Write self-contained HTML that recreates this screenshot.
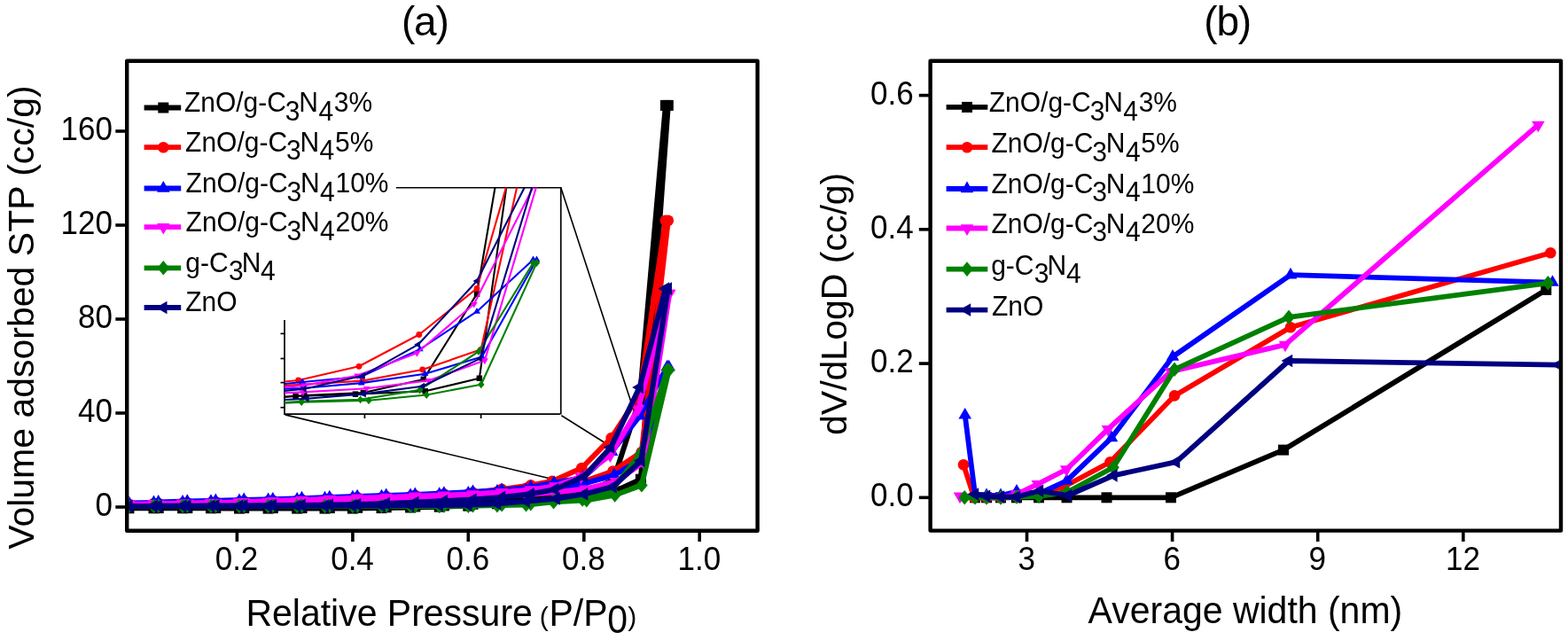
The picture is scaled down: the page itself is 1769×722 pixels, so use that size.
<!DOCTYPE html><html><head><meta charset="utf-8"><style>html,body{margin:0;padding:0;background:#fff;overflow:hidden}</style></head><body><svg width="1769" height="722" viewBox="0 0 1769 722" style="display:block">
<rect width="1769" height="722" fill="#fff"/>
<defs><clipPath id="ca"><rect x="145.4" y="70.9" width="707" height="525.6"/></clipPath><clipPath id="cb"><rect x="1051.8" y="71" width="707" height="525.4"/></clipPath><clipPath id="ci"><rect x="321" y="211.6" width="311.2" height="255.2"/></clipPath></defs>
<text x="453" y="40.3" font-family="Liberation Sans, Arial, sans-serif" font-size="46" letter-spacing="-1.2">(a)</text>
<text x="1358.3" y="40.3" font-family="Liberation Sans, Arial, sans-serif" font-size="46" letter-spacing="-1.2">(b)</text>
<g font-family="Liberation Sans, Arial, sans-serif" font-size="35" fill="#000">
<line x1="130.3" y1="572.0" x2="143" y2="572.0" stroke="#000" stroke-width="3.6"/>
<text transform="translate(127,582.3) scale(1,1.05)" text-anchor="end">0</text>
<line x1="130.3" y1="466.0" x2="143" y2="466.0" stroke="#000" stroke-width="3.6"/>
<text transform="translate(127,476.3) scale(1,1.05)" text-anchor="end">40</text>
<line x1="130.3" y1="360.0" x2="143" y2="360.0" stroke="#000" stroke-width="3.6"/>
<text transform="translate(127,370.3) scale(1,1.05)" text-anchor="end">80</text>
<line x1="130.3" y1="254.0" x2="143" y2="254.0" stroke="#000" stroke-width="3.6"/>
<text transform="translate(127,264.3) scale(1,1.05)" text-anchor="end">120</text>
<line x1="130.3" y1="148.0" x2="143" y2="148.0" stroke="#000" stroke-width="3.6"/>
<text transform="translate(127,158.3) scale(1,1.05)" text-anchor="end">160</text>
<line x1="267.4" y1="598" x2="267.4" y2="611" stroke="#000" stroke-width="3.6"/>
<text transform="translate(267.0,643.3) scale(1,1.05)" text-anchor="middle">0.2</text>
<line x1="397.9" y1="598" x2="397.9" y2="611" stroke="#000" stroke-width="3.6"/>
<text transform="translate(397.5,643.3) scale(1,1.05)" text-anchor="middle">0.4</text>
<line x1="528.3" y1="598" x2="528.3" y2="611" stroke="#000" stroke-width="3.6"/>
<text transform="translate(527.9,643.3) scale(1,1.05)" text-anchor="middle">0.6</text>
<line x1="658.8" y1="598" x2="658.8" y2="611" stroke="#000" stroke-width="3.6"/>
<text transform="translate(658.4,643.3) scale(1,1.05)" text-anchor="middle">0.8</text>
<line x1="789.2" y1="598" x2="789.2" y2="611" stroke="#000" stroke-width="3.6"/>
<text transform="translate(788.8,643.3) scale(1,1.05)" text-anchor="middle">1.0</text>
</g>
<g font-family="Liberation Sans, Arial, sans-serif" font-size="35" fill="#000">
<line x1="1036.8" y1="561.3" x2="1049" y2="561.3" stroke="#000" stroke-width="3.6"/>
<text transform="translate(1030.6,571.3) scale(1,1.05)" text-anchor="end">0.0</text>
<line x1="1036.8" y1="410.1" x2="1049" y2="410.1" stroke="#000" stroke-width="3.6"/>
<text transform="translate(1030.6,420.1) scale(1,1.05)" text-anchor="end">0.2</text>
<line x1="1036.8" y1="258.8" x2="1049" y2="258.8" stroke="#000" stroke-width="3.6"/>
<text transform="translate(1030.6,268.8) scale(1,1.05)" text-anchor="end">0.4</text>
<line x1="1036.8" y1="107.6" x2="1049" y2="107.6" stroke="#000" stroke-width="3.6"/>
<text transform="translate(1030.6,117.6) scale(1,1.05)" text-anchor="end">0.6</text>
<line x1="1158.5" y1="598" x2="1158.5" y2="611" stroke="#000" stroke-width="3.6"/>
<text transform="translate(1158.1,643) scale(1,1.05)" text-anchor="middle">3</text>
<line x1="1322.6" y1="598" x2="1322.6" y2="611" stroke="#000" stroke-width="3.6"/>
<text transform="translate(1322.2,643) scale(1,1.05)" text-anchor="middle">6</text>
<line x1="1486.7" y1="598" x2="1486.7" y2="611" stroke="#000" stroke-width="3.6"/>
<text transform="translate(1486.3,643) scale(1,1.05)" text-anchor="middle">9</text>
<line x1="1650.8" y1="598" x2="1650.8" y2="611" stroke="#000" stroke-width="3.6"/>
<text transform="translate(1650.4,643) scale(1,1.05)" text-anchor="middle">12</text>
</g>
<text transform="translate(38.0,619.7) rotate(-90)" font-family="Liberation Sans, Arial, sans-serif" font-size="41">Volume adsorbed STP (cc/g)</text>
<text transform="translate(954.9,491) rotate(-90)" font-family="Liberation Sans, Arial, sans-serif" font-size="41">dV/dLogD (cc/g)</text>
<text transform="translate(1227.6,702.7) scale(1,1.055)" font-family="Liberation Sans, Arial, sans-serif" font-size="41">Average width (nm)</text>
<text transform="translate(277.4,705.5) scale(1,1.055)" font-family="Liberation Sans, Arial, sans-serif" font-size="41"><tspan x="0">Relative Pressure</tspan></text>
<text transform="translate(608.7,705.5)" font-family="Liberation Sans, Arial, sans-serif" font-size="30">(</text>
<text transform="translate(619.5,705.5) scale(1,1.055)" font-family="Liberation Sans, Arial, sans-serif" font-size="41">P/P</text>
<text transform="translate(685.2,714.4) scale(1,1.08)" font-family="Liberation Sans, Arial, sans-serif" font-size="41">0</text>
<text transform="translate(708.3,705.5)" font-family="Liberation Sans, Arial, sans-serif" font-size="30">)</text>
<g>
<g stroke="#000" stroke-width="1.6" fill="none">
<polyline points="446.7,211.7 632.8,211.7 632.8,467.5"/>
<line x1="632.8" y1="211.7" x2="714.8" y2="462.3"/>
<line x1="633.4" y1="468.7" x2="684" y2="500.5"/>
<line x1="321.6" y1="467.9" x2="625.3" y2="541"/>
</g>
<g stroke="#000" stroke-width="1.7">
<line x1="321" y1="361" x2="321" y2="467.2"/><line x1="320.2" y1="467.2" x2="632" y2="467.2"/>
<line x1="316.5" y1="376.4" x2="321" y2="376.4"/>
<line x1="316.5" y1="404.5" x2="321" y2="404.5"/>
<line x1="316.5" y1="431.6" x2="321" y2="431.6"/>
<line x1="316.5" y1="459.7" x2="321" y2="459.7"/>
<line x1="411.4" y1="467.2" x2="411.4" y2="472"/>
<line x1="542.6" y1="467.2" x2="542.6" y2="472"/>
</g>
<g clip-path="url(#ci)">
<polyline points="-637.2,461.2 -580.0,461.2 -513.5,461.2 -448.3,461.2 -383.1,461.5 -316.6,461.5 -250.0,461.5 -186.2,461.5 -122.3,461.5 -55.8,460.9 10.7,460.4 77.3,459.5 143.8,458.4 210.3,455.9 276.8,452.0 333.5,446.9 401.0,444.7 479.8,441.3 540.8,426.8 603.8,-19.0 597.9,-19.0 538.0,331.6 477.8,427.9 409.9,443.0 343.4,446.1 287.5,449.7 221.0,453.6 154.4,456.4 87.9,458.1 21.4,459.2 -45.1,460.1 -111.7,460.6 -175.5,460.9 -239.4,460.9 -305.9,460.9 -372.4,460.9 -437.6,460.9 -502.8,460.9 -569.3,460.9" fill="none" stroke="#000000" stroke-width="2.1" stroke-linejoin="round" stroke-linecap="round" />
<rect x="330.3" y="443.7" width="6.5" height="6.5" fill="#000000"/>
<rect x="397.7" y="441.4" width="6.5" height="6.5" fill="#000000"/>
<rect x="476.5" y="438.1" width="6.5" height="6.5" fill="#000000"/>
<rect x="537.6" y="423.5" width="6.5" height="6.5" fill="#000000"/>
<rect x="600.5" y="-22.2" width="6.5" height="6.5" fill="#000000"/>
<rect x="594.6" y="-22.2" width="6.5" height="6.5" fill="#000000"/>
<rect x="534.8" y="328.3" width="6.5" height="6.5" fill="#000000"/>
<rect x="474.5" y="424.6" width="6.5" height="6.5" fill="#000000"/>
<rect x="406.6" y="439.8" width="6.5" height="6.5" fill="#000000"/>
<rect x="340.1" y="442.8" width="6.5" height="6.5" fill="#000000"/>
<polyline points="-637.2,456.2 -580.0,455.6 -513.5,455.0 -448.3,454.5 -383.1,453.6 -316.6,452.8 -250.0,452.0 -186.2,450.8 -122.3,449.7 -55.8,448.6 10.7,447.2 77.3,445.8 143.8,444.4 210.3,441.6 276.8,437.4 340.7,433.8 408.8,429.6 476.7,417.0 542.6,394.3 603.8,118.2 597.9,118.2 538.0,325.4 472.8,377.5 405.0,413.3 336.7,429.0 287.5,433.8 221.0,438.5 154.4,442.4 87.9,444.1 21.4,445.8 -45.1,447.2 -111.7,448.3 -175.5,449.7 -239.4,450.8 -305.9,452.0 -372.4,452.8 -437.6,453.6 -502.8,454.5 -569.3,455.3" fill="none" stroke="#ff0000" stroke-width="2.1" stroke-linejoin="round" stroke-linecap="round" />
<circle cx="340.7" cy="433.8" r="3.4" fill="#ff0000"/>
<circle cx="408.8" cy="429.6" r="3.4" fill="#ff0000"/>
<circle cx="476.7" cy="417.0" r="3.4" fill="#ff0000"/>
<circle cx="542.6" cy="394.3" r="3.4" fill="#ff0000"/>
<circle cx="603.8" cy="118.2" r="3.4" fill="#ff0000"/>
<circle cx="597.9" cy="118.2" r="3.4" fill="#ff0000"/>
<circle cx="538.0" cy="325.4" r="3.4" fill="#ff0000"/>
<circle cx="472.8" cy="377.5" r="3.4" fill="#ff0000"/>
<circle cx="405.0" cy="413.3" r="3.4" fill="#ff0000"/>
<circle cx="336.7" cy="429.0" r="3.4" fill="#ff0000"/>
<polyline points="-637.2,455.0 -580.0,454.5 -513.5,453.9 -448.3,453.1 -383.1,452.2 -316.6,451.4 -250.0,450.6 -186.2,449.4 -122.3,448.3 -55.8,447.2 10.7,445.8 77.3,444.7 143.8,443.3 210.3,441.3 276.8,439.6 341.2,438.0 407.8,432.1 479.5,421.7 543.7,402.4 605.5,292.9 601.5,292.9 538.0,351.4 473.8,394.0 407.8,424.8 341.2,431.0 287.5,436.3 221.0,439.6 154.4,441.9 87.9,443.6 21.4,445.0 -45.1,446.1 -111.7,447.2 -175.5,448.3 -239.4,449.4 -305.9,450.6 -372.4,451.4 -437.6,452.2 -502.8,453.1 -569.3,453.9" fill="none" stroke="#0000ff" stroke-width="2.1" stroke-linejoin="round" stroke-linecap="round" />
<polygon points="341.2,433.4 345.2,440.2 337.3,440.2" fill="#0000ff"/>
<polygon points="407.8,427.5 411.7,434.4 403.8,434.4" fill="#0000ff"/>
<polygon points="479.5,417.2 483.4,424.0 475.5,424.0" fill="#0000ff"/>
<polygon points="543.7,397.9 547.7,404.7 539.8,404.7" fill="#0000ff"/>
<polygon points="605.5,288.4 609.4,295.2 601.5,295.2" fill="#0000ff"/>
<polygon points="601.5,288.4 605.5,295.2 597.5,295.2" fill="#0000ff"/>
<polygon points="538.0,346.9 542.0,353.7 534.1,353.7" fill="#0000ff"/>
<polygon points="473.8,389.4 477.7,396.3 469.8,396.3" fill="#0000ff"/>
<polygon points="407.8,420.2 411.7,427.1 403.8,427.1" fill="#0000ff"/>
<polygon points="341.2,426.4 345.2,433.2 337.3,433.2" fill="#0000ff"/>
<polyline points="-637.2,456.4 -580.0,455.9 -513.5,455.3 -448.3,454.5 -383.1,453.9 -316.6,453.4 -250.0,452.5 -186.2,451.7 -122.3,450.8 -55.8,450.3 10.7,449.4 77.3,448.6 143.8,448.0 210.3,446.6 276.8,445.0 341.8,442.4 413.8,438.2 483.6,429.3 546.9,406.6 606.8,205.0 604.6,205.0 534.8,343.0 470.4,398.2 403.2,423.7 343.4,434.9 287.5,439.1 221.0,442.2 154.4,444.4 87.9,445.8 21.4,446.9 -45.1,448.0 -111.7,448.9 -175.5,450.3 -239.4,451.4 -305.9,452.5 -372.4,453.6 -437.6,454.8 -502.8,455.6 -569.3,456.4" fill="none" stroke="#ff00ff" stroke-width="2.1" stroke-linejoin="round" stroke-linecap="round" />
<polygon points="341.8,447.0 345.7,440.2 337.8,440.2" fill="#ff00ff"/>
<polygon points="413.8,442.8 417.7,436.0 409.8,436.0" fill="#ff00ff"/>
<polygon points="483.6,433.8 487.6,427.0 479.7,427.0" fill="#ff00ff"/>
<polygon points="546.9,411.2 550.9,404.3 543.0,404.3" fill="#ff00ff"/>
<polygon points="606.8,209.6 610.8,202.7 602.9,202.7" fill="#ff00ff"/>
<polygon points="604.6,209.6 608.5,202.7 600.6,202.7" fill="#ff00ff"/>
<polygon points="534.8,347.6 538.8,340.8 530.9,340.8" fill="#ff00ff"/>
<polygon points="470.4,402.8 474.4,395.9 466.5,395.9" fill="#ff00ff"/>
<polygon points="403.2,428.2 407.2,421.4 399.3,421.4" fill="#ff00ff"/>
<polygon points="343.4,439.4 347.3,432.6 339.4,432.6" fill="#ff00ff"/>
<polyline points="-637.2,459.0 -580.0,458.7 -513.5,458.7 -448.3,458.7 -383.1,458.7 -316.6,458.7 -250.0,458.7 -186.2,458.7 -122.3,458.7 -55.8,458.7 10.7,458.7 77.3,458.7 143.8,458.4 210.3,457.8 276.8,457.0 340.2,453.6 416.0,451.7 481.2,445.5 542.8,433.8 605.5,296.6 601.5,296.6 540.0,396.5 473.6,439.9 406.6,450.8 340.2,452.8 287.5,455.9 221.0,457.0 154.4,457.8 87.9,458.1 21.4,458.4 -45.1,458.4 -111.7,458.4 -175.5,458.4 -239.4,458.4 -305.9,458.4 -372.4,458.4 -437.6,458.4 -502.8,458.4 -569.3,458.4" fill="none" stroke="#008000" stroke-width="2.1" stroke-linejoin="round" stroke-linecap="round" />
<polygon points="340.2,449.2 343.9,453.6 340.2,458.1 336.5,453.6" fill="#008000"/>
<polygon points="416.0,447.2 419.7,451.7 416.0,456.2 412.3,451.7" fill="#008000"/>
<polygon points="481.2,441.0 484.9,445.5 481.2,450.0 477.5,445.5" fill="#008000"/>
<polygon points="542.8,429.3 546.5,433.8 542.8,438.2 539.1,433.8" fill="#008000"/>
<polygon points="605.5,292.1 609.2,296.6 605.5,301.0 601.8,296.6" fill="#008000"/>
<polygon points="601.5,292.1 605.2,296.6 601.5,301.0 597.8,296.6" fill="#008000"/>
<polygon points="540.0,392.0 543.7,396.5 540.0,401.0 536.3,396.5" fill="#008000"/>
<polygon points="473.6,435.4 477.3,439.9 473.6,444.4 469.9,439.9" fill="#008000"/>
<polygon points="406.6,446.4 410.3,450.8 406.6,455.3 402.9,450.8" fill="#008000"/>
<polygon points="340.2,448.3 343.9,452.8 340.2,457.3 336.5,452.8" fill="#008000"/>
<polyline points="-637.2,458.7 -580.0,458.7 -513.5,458.7 -448.3,458.7 -383.1,458.7 -316.6,458.7 -250.0,458.4 -186.2,458.4 -122.3,458.1 -55.8,458.1 10.7,457.8 77.3,457.6 143.8,457.3 210.3,455.9 276.8,453.1 346.3,449.7 410.6,444.4 476.7,435.7 541.5,404.6 603.8,199.4 597.9,199.4 538.0,317.0 471.8,388.7 409.5,423.7 343.4,438.8 287.5,444.1 221.0,448.0 154.4,450.8 87.9,452.5 21.4,454.2 -45.1,455.6 -111.7,456.7 -175.5,457.3 -239.4,457.6 -305.9,457.8 -372.4,458.1 -437.6,458.1 -502.8,458.4 -569.3,458.4" fill="none" stroke="#000080" stroke-width="2.1" stroke-linejoin="round" stroke-linecap="round" />
<polygon points="341.8,449.7 348.6,445.8 348.6,453.7" fill="#000080"/>
<polygon points="406.0,444.4 412.8,440.4 412.8,448.4" fill="#000080"/>
<polygon points="472.1,435.7 479.0,431.8 479.0,439.7" fill="#000080"/>
<polygon points="536.9,404.6 543.8,400.7 543.8,408.6" fill="#000080"/>
<polygon points="599.2,199.4 606.0,195.4 606.0,203.4" fill="#000080"/>
<polygon points="593.3,199.4 600.2,195.4 600.2,203.4" fill="#000080"/>
<polygon points="533.5,317.0 540.3,313.0 540.3,321.0" fill="#000080"/>
<polygon points="467.2,388.7 474.0,384.7 474.0,392.6" fill="#000080"/>
<polygon points="405.0,423.7 411.8,419.7 411.8,427.6" fill="#000080"/>
<polygon points="338.8,438.8 345.6,434.8 345.6,442.8" fill="#000080"/>
</g>
</g>
<g clip-path="url(#ca)">
<polyline points="145.4,573.3 173.5,573.3 206.1,573.3 238.0,573.3 270.0,573.6 302.6,573.6 335.2,573.6 366.5,573.6 397.9,573.6 430.5,573.1 463.1,572.5 495.7,571.7 528.3,570.7 560.9,568.3 593.5,564.6 621.3,559.8 654.4,557.7 693.0,554.5 722.9,540.7 753.8,118.9 750.9,118.9 721.6,450.6 692.0,541.8 658.8,556.1 626.1,559.0 598.7,562.5 566.1,566.2 533.5,568.8 500.9,570.4 468.3,571.5 435.7,572.3 403.1,572.8 371.8,573.1 340.5,573.1 307.8,573.1 275.2,573.1 243.3,573.1 211.3,573.1 178.7,573.1" fill="none" stroke="#000000" stroke-width="6" stroke-linejoin="round" stroke-linecap="round" />
<rect x="139.4" y="567.3" width="12.0" height="12.0" fill="#000000"/>
<rect x="167.5" y="567.3" width="12.0" height="12.0" fill="#000000"/>
<rect x="200.1" y="567.3" width="12.0" height="12.0" fill="#000000"/>
<rect x="232.0" y="567.3" width="12.0" height="12.0" fill="#000000"/>
<rect x="264.0" y="567.6" width="12.0" height="12.0" fill="#000000"/>
<rect x="296.6" y="567.6" width="12.0" height="12.0" fill="#000000"/>
<rect x="329.2" y="567.6" width="12.0" height="12.0" fill="#000000"/>
<rect x="360.5" y="567.6" width="12.0" height="12.0" fill="#000000"/>
<rect x="391.9" y="567.6" width="12.0" height="12.0" fill="#000000"/>
<rect x="424.5" y="567.1" width="12.0" height="12.0" fill="#000000"/>
<rect x="457.1" y="566.5" width="12.0" height="12.0" fill="#000000"/>
<rect x="489.7" y="565.7" width="12.0" height="12.0" fill="#000000"/>
<rect x="522.3" y="564.7" width="12.0" height="12.0" fill="#000000"/>
<rect x="554.9" y="562.3" width="12.0" height="12.0" fill="#000000"/>
<rect x="587.5" y="558.6" width="12.0" height="12.0" fill="#000000"/>
<rect x="615.3" y="553.8" width="12.0" height="12.0" fill="#000000"/>
<rect x="648.4" y="551.7" width="12.0" height="12.0" fill="#000000"/>
<rect x="687.0" y="548.5" width="12.0" height="12.0" fill="#000000"/>
<rect x="716.9" y="534.7" width="12.0" height="12.0" fill="#000000"/>
<rect x="747.8" y="112.9" width="12.0" height="12.0" fill="#000000"/>
<rect x="744.9" y="112.9" width="12.0" height="12.0" fill="#000000"/>
<rect x="715.6" y="444.6" width="12.0" height="12.0" fill="#000000"/>
<rect x="686.0" y="535.8" width="12.0" height="12.0" fill="#000000"/>
<rect x="652.8" y="550.1" width="12.0" height="12.0" fill="#000000"/>
<rect x="620.1" y="553.0" width="12.0" height="12.0" fill="#000000"/>
<rect x="592.7" y="556.5" width="12.0" height="12.0" fill="#000000"/>
<rect x="560.1" y="560.2" width="12.0" height="12.0" fill="#000000"/>
<rect x="527.5" y="562.8" width="12.0" height="12.0" fill="#000000"/>
<rect x="494.9" y="564.4" width="12.0" height="12.0" fill="#000000"/>
<rect x="462.3" y="565.5" width="12.0" height="12.0" fill="#000000"/>
<rect x="429.7" y="566.3" width="12.0" height="12.0" fill="#000000"/>
<rect x="397.1" y="566.8" width="12.0" height="12.0" fill="#000000"/>
<rect x="365.8" y="567.1" width="12.0" height="12.0" fill="#000000"/>
<rect x="334.5" y="567.1" width="12.0" height="12.0" fill="#000000"/>
<rect x="301.8" y="567.1" width="12.0" height="12.0" fill="#000000"/>
<rect x="269.2" y="567.1" width="12.0" height="12.0" fill="#000000"/>
<rect x="237.3" y="567.1" width="12.0" height="12.0" fill="#000000"/>
<rect x="205.3" y="567.1" width="12.0" height="12.0" fill="#000000"/>
<rect x="172.7" y="567.1" width="12.0" height="12.0" fill="#000000"/>
<polyline points="145.4,568.6 173.5,568.0 206.1,567.5 238.0,567.0 270.0,566.2 302.6,565.4 335.2,564.6 366.5,563.5 397.9,562.5 430.5,561.4 463.1,560.1 495.7,558.8 528.3,557.4 560.9,554.8 593.5,550.8 624.8,547.4 658.2,543.4 691.5,531.5 723.8,510.0 753.8,248.7 750.9,248.7 721.6,444.8 689.6,494.1 656.3,528.0 622.9,542.9 598.7,547.4 566.1,551.9 533.5,555.6 500.9,557.2 468.3,558.8 435.7,560.1 403.1,561.1 371.8,562.5 340.5,563.5 307.8,564.6 275.2,565.4 243.3,566.2 211.3,567.0 178.7,567.8" fill="none" stroke="#ff0000" stroke-width="6" stroke-linejoin="round" stroke-linecap="round" />
<circle cx="145.4" cy="568.6" r="6.3" fill="#ff0000"/>
<circle cx="173.5" cy="568.0" r="6.3" fill="#ff0000"/>
<circle cx="206.1" cy="567.5" r="6.3" fill="#ff0000"/>
<circle cx="238.0" cy="567.0" r="6.3" fill="#ff0000"/>
<circle cx="270.0" cy="566.2" r="6.3" fill="#ff0000"/>
<circle cx="302.6" cy="565.4" r="6.3" fill="#ff0000"/>
<circle cx="335.2" cy="564.6" r="6.3" fill="#ff0000"/>
<circle cx="366.5" cy="563.5" r="6.3" fill="#ff0000"/>
<circle cx="397.9" cy="562.5" r="6.3" fill="#ff0000"/>
<circle cx="430.5" cy="561.4" r="6.3" fill="#ff0000"/>
<circle cx="463.1" cy="560.1" r="6.3" fill="#ff0000"/>
<circle cx="495.7" cy="558.8" r="6.3" fill="#ff0000"/>
<circle cx="528.3" cy="557.4" r="6.3" fill="#ff0000"/>
<circle cx="560.9" cy="554.8" r="6.3" fill="#ff0000"/>
<circle cx="593.5" cy="550.8" r="6.3" fill="#ff0000"/>
<circle cx="624.8" cy="547.4" r="6.3" fill="#ff0000"/>
<circle cx="658.2" cy="543.4" r="6.3" fill="#ff0000"/>
<circle cx="691.5" cy="531.5" r="6.3" fill="#ff0000"/>
<circle cx="723.8" cy="510.0" r="6.3" fill="#ff0000"/>
<circle cx="753.8" cy="248.7" r="6.3" fill="#ff0000"/>
<circle cx="750.9" cy="248.7" r="6.3" fill="#ff0000"/>
<circle cx="721.6" cy="444.8" r="6.3" fill="#ff0000"/>
<circle cx="689.6" cy="494.1" r="6.3" fill="#ff0000"/>
<circle cx="656.3" cy="528.0" r="6.3" fill="#ff0000"/>
<circle cx="622.9" cy="542.9" r="6.3" fill="#ff0000"/>
<circle cx="598.7" cy="547.4" r="6.3" fill="#ff0000"/>
<circle cx="566.1" cy="551.9" r="6.3" fill="#ff0000"/>
<circle cx="533.5" cy="555.6" r="6.3" fill="#ff0000"/>
<circle cx="500.9" cy="557.2" r="6.3" fill="#ff0000"/>
<circle cx="468.3" cy="558.8" r="6.3" fill="#ff0000"/>
<circle cx="435.7" cy="560.1" r="6.3" fill="#ff0000"/>
<circle cx="403.1" cy="561.1" r="6.3" fill="#ff0000"/>
<circle cx="371.8" cy="562.5" r="6.3" fill="#ff0000"/>
<circle cx="340.5" cy="563.5" r="6.3" fill="#ff0000"/>
<circle cx="307.8" cy="564.6" r="6.3" fill="#ff0000"/>
<circle cx="275.2" cy="565.4" r="6.3" fill="#ff0000"/>
<circle cx="243.3" cy="566.2" r="6.3" fill="#ff0000"/>
<circle cx="211.3" cy="567.0" r="6.3" fill="#ff0000"/>
<circle cx="178.7" cy="567.8" r="6.3" fill="#ff0000"/>
<polyline points="145.4,567.5 173.5,567.0 206.1,566.4 238.0,565.6 270.0,564.8 302.6,564.0 335.2,563.3 366.5,562.2 397.9,561.1 430.5,560.1 463.1,558.8 495.7,557.7 528.3,556.4 560.9,554.5 593.5,552.9 625.1,551.3 657.7,545.8 692.9,536.0 724.4,517.7 754.6,414.1 752.7,414.1 721.6,469.4 690.1,509.7 657.7,538.9 625.1,544.7 598.7,549.7 566.1,552.9 533.5,555.0 500.9,556.6 468.3,558.0 435.7,559.0 403.1,560.1 371.8,561.1 340.5,562.2 307.8,563.3 275.2,564.0 243.3,564.8 211.3,565.6 178.7,566.4" fill="none" stroke="#0000ff" stroke-width="6" stroke-linejoin="round" stroke-linecap="round" />
<polygon points="145.4,559.1 152.7,571.7 138.1,571.7" fill="#0000ff"/>
<polygon points="173.5,558.6 180.8,571.2 166.2,571.2" fill="#0000ff"/>
<polygon points="206.1,558.0 213.4,570.6 198.8,570.6" fill="#0000ff"/>
<polygon points="238.0,557.2 245.4,569.8 230.7,569.8" fill="#0000ff"/>
<polygon points="270.0,556.4 277.3,569.0 262.7,569.0" fill="#0000ff"/>
<polygon points="302.6,555.6 309.9,568.2 295.3,568.2" fill="#0000ff"/>
<polygon points="335.2,554.9 342.5,567.5 327.9,567.5" fill="#0000ff"/>
<polygon points="366.5,553.8 373.8,566.4 359.2,566.4" fill="#0000ff"/>
<polygon points="397.9,552.7 405.2,565.3 390.5,565.3" fill="#0000ff"/>
<polygon points="430.5,551.7 437.8,564.3 423.2,564.3" fill="#0000ff"/>
<polygon points="463.1,550.4 470.4,563.0 455.8,563.0" fill="#0000ff"/>
<polygon points="495.7,549.3 503.0,561.9 488.4,561.9" fill="#0000ff"/>
<polygon points="528.3,548.0 535.6,560.6 521.0,560.6" fill="#0000ff"/>
<polygon points="560.9,546.1 568.2,558.7 553.6,558.7" fill="#0000ff"/>
<polygon points="593.5,544.5 600.8,557.1 586.2,557.1" fill="#0000ff"/>
<polygon points="625.1,542.9 632.4,555.5 617.8,555.5" fill="#0000ff"/>
<polygon points="657.7,537.4 665.0,550.0 650.4,550.0" fill="#0000ff"/>
<polygon points="692.9,527.6 700.2,540.2 685.6,540.2" fill="#0000ff"/>
<polygon points="724.4,509.3 731.7,521.9 717.1,521.9" fill="#0000ff"/>
<polygon points="754.6,405.7 761.9,418.3 747.3,418.3" fill="#0000ff"/>
<polygon points="752.7,405.7 760.0,418.3 745.4,418.3" fill="#0000ff"/>
<polygon points="721.6,461.0 728.9,473.6 714.3,473.6" fill="#0000ff"/>
<polygon points="690.1,501.3 697.4,513.9 682.8,513.9" fill="#0000ff"/>
<polygon points="657.7,530.5 665.0,543.1 650.4,543.1" fill="#0000ff"/>
<polygon points="625.1,536.3 632.4,548.9 617.8,548.9" fill="#0000ff"/>
<polygon points="598.7,541.3 606.1,553.9 591.4,553.9" fill="#0000ff"/>
<polygon points="566.1,544.5 573.4,557.1 558.8,557.1" fill="#0000ff"/>
<polygon points="533.5,546.6 540.8,559.2 526.2,559.2" fill="#0000ff"/>
<polygon points="500.9,548.2 508.2,560.8 493.6,560.8" fill="#0000ff"/>
<polygon points="468.3,549.6 475.6,562.2 461.0,562.2" fill="#0000ff"/>
<polygon points="435.7,550.6 443.0,563.2 428.4,563.2" fill="#0000ff"/>
<polygon points="403.1,551.7 410.4,564.3 395.8,564.3" fill="#0000ff"/>
<polygon points="371.8,552.7 379.1,565.3 364.5,565.3" fill="#0000ff"/>
<polygon points="340.5,553.8 347.8,566.4 333.1,566.4" fill="#0000ff"/>
<polygon points="307.8,554.9 315.1,567.5 300.5,567.5" fill="#0000ff"/>
<polygon points="275.2,555.6 282.5,568.2 267.9,568.2" fill="#0000ff"/>
<polygon points="243.3,556.4 250.6,569.0 236.0,569.0" fill="#0000ff"/>
<polygon points="211.3,557.2 218.6,569.8 204.0,569.8" fill="#0000ff"/>
<polygon points="178.7,558.0 186.0,570.6 171.4,570.6" fill="#0000ff"/>
<polyline points="145.4,568.8 173.5,568.3 206.1,567.8 238.0,567.0 270.0,566.4 302.6,565.9 335.2,565.1 366.5,564.3 397.9,563.5 430.5,563.0 463.1,562.2 495.7,561.4 528.3,560.9 560.9,559.5 593.5,558.0 625.4,555.6 660.6,551.6 694.9,543.1 725.9,521.6 755.3,330.9 754.2,330.9 720.0,461.5 688.4,513.7 655.5,537.8 626.1,548.4 598.7,552.4 566.1,555.3 533.5,557.4 500.9,558.8 468.3,559.8 435.7,560.9 403.1,561.7 371.8,563.0 340.5,564.0 307.8,565.1 275.2,566.2 243.3,567.2 211.3,568.0 178.7,568.8" fill="none" stroke="#ff00ff" stroke-width="6" stroke-linejoin="round" stroke-linecap="round" />
<polygon points="145.4,577.2 152.7,564.6 138.1,564.6" fill="#ff00ff"/>
<polygon points="173.5,576.7 180.8,564.1 166.2,564.1" fill="#ff00ff"/>
<polygon points="206.1,576.2 213.4,563.6 198.8,563.6" fill="#ff00ff"/>
<polygon points="238.0,575.4 245.4,562.8 230.7,562.8" fill="#ff00ff"/>
<polygon points="270.0,574.8 277.3,562.2 262.7,562.2" fill="#ff00ff"/>
<polygon points="302.6,574.3 309.9,561.7 295.3,561.7" fill="#ff00ff"/>
<polygon points="335.2,573.5 342.5,560.9 327.9,560.9" fill="#ff00ff"/>
<polygon points="366.5,572.7 373.8,560.1 359.2,560.1" fill="#ff00ff"/>
<polygon points="397.9,571.9 405.2,559.3 390.5,559.3" fill="#ff00ff"/>
<polygon points="430.5,571.4 437.8,558.8 423.2,558.8" fill="#ff00ff"/>
<polygon points="463.1,570.6 470.4,558.0 455.8,558.0" fill="#ff00ff"/>
<polygon points="495.7,569.8 503.0,557.2 488.4,557.2" fill="#ff00ff"/>
<polygon points="528.3,569.3 535.6,556.7 521.0,556.7" fill="#ff00ff"/>
<polygon points="560.9,567.9 568.2,555.3 553.6,555.3" fill="#ff00ff"/>
<polygon points="593.5,566.4 600.8,553.8 586.2,553.8" fill="#ff00ff"/>
<polygon points="625.4,564.0 632.7,551.4 618.0,551.4" fill="#ff00ff"/>
<polygon points="660.6,560.0 667.9,547.4 653.3,547.4" fill="#ff00ff"/>
<polygon points="694.9,551.5 702.2,538.9 687.6,538.9" fill="#ff00ff"/>
<polygon points="725.9,530.0 733.2,517.4 718.6,517.4" fill="#ff00ff"/>
<polygon points="755.3,339.2 762.6,326.7 748.0,326.7" fill="#ff00ff"/>
<polygon points="754.2,339.2 761.5,326.7 746.9,326.7" fill="#ff00ff"/>
<polygon points="720.0,469.9 727.3,457.3 712.7,457.3" fill="#ff00ff"/>
<polygon points="688.4,522.1 695.7,509.5 681.1,509.5" fill="#ff00ff"/>
<polygon points="655.5,546.2 662.8,533.6 648.2,533.6" fill="#ff00ff"/>
<polygon points="626.1,556.8 633.4,544.2 618.8,544.2" fill="#ff00ff"/>
<polygon points="598.7,560.8 606.1,548.2 591.4,548.2" fill="#ff00ff"/>
<polygon points="566.1,563.7 573.4,551.1 558.8,551.1" fill="#ff00ff"/>
<polygon points="533.5,565.8 540.8,553.2 526.2,553.2" fill="#ff00ff"/>
<polygon points="500.9,567.1 508.2,554.5 493.6,554.5" fill="#ff00ff"/>
<polygon points="468.3,568.2 475.6,555.6 461.0,555.6" fill="#ff00ff"/>
<polygon points="435.7,569.3 443.0,556.7 428.4,556.7" fill="#ff00ff"/>
<polygon points="403.1,570.1 410.4,557.5 395.8,557.5" fill="#ff00ff"/>
<polygon points="371.8,571.4 379.1,558.8 364.5,558.8" fill="#ff00ff"/>
<polygon points="340.5,572.4 347.8,559.8 333.1,559.8" fill="#ff00ff"/>
<polygon points="307.8,573.5 315.1,560.9 300.5,560.9" fill="#ff00ff"/>
<polygon points="275.2,574.6 282.5,562.0 267.9,562.0" fill="#ff00ff"/>
<polygon points="243.3,575.6 250.6,563.0 236.0,563.0" fill="#ff00ff"/>
<polygon points="211.3,576.4 218.6,563.8 204.0,563.8" fill="#ff00ff"/>
<polygon points="178.7,577.2 186.0,564.6 171.4,564.6" fill="#ff00ff"/>
<polyline points="145.4,571.2 173.5,570.9 206.1,570.9 238.0,570.9 270.0,570.9 302.6,570.9 335.2,570.9 366.5,570.9 397.9,570.9 430.5,570.9 463.1,570.9 495.7,570.9 528.3,570.7 560.9,570.1 593.5,569.4 624.6,566.2 661.8,564.3 693.7,558.5 723.9,547.4 754.6,417.5 752.7,417.5 722.5,512.1 690.0,553.2 657.1,563.5 624.6,565.4 598.7,568.3 566.1,569.4 533.5,570.1 500.9,570.4 468.3,570.7 435.7,570.7 403.1,570.7 371.8,570.7 340.5,570.7 307.8,570.7 275.2,570.7 243.3,570.7 211.3,570.7 178.7,570.7" fill="none" stroke="#008000" stroke-width="6" stroke-linejoin="round" stroke-linecap="round" />
<polygon points="145.4,562.9 152.3,571.2 145.4,579.5 138.6,571.2" fill="#008000"/>
<polygon points="173.5,562.7 180.3,570.9 173.5,579.2 166.6,570.9" fill="#008000"/>
<polygon points="206.1,562.7 212.9,570.9 206.1,579.2 199.2,570.9" fill="#008000"/>
<polygon points="238.0,562.7 244.9,570.9 238.0,579.2 231.2,570.9" fill="#008000"/>
<polygon points="270.0,562.7 276.8,570.9 270.0,579.2 263.2,570.9" fill="#008000"/>
<polygon points="302.6,562.7 309.5,570.9 302.6,579.2 295.8,570.9" fill="#008000"/>
<polygon points="335.2,562.7 342.1,570.9 335.2,579.2 328.4,570.9" fill="#008000"/>
<polygon points="366.5,562.7 373.4,570.9 366.5,579.2 359.7,570.9" fill="#008000"/>
<polygon points="397.9,562.7 404.7,570.9 397.9,579.2 391.0,570.9" fill="#008000"/>
<polygon points="430.5,562.7 437.3,570.9 430.5,579.2 423.6,570.9" fill="#008000"/>
<polygon points="463.1,562.7 469.9,570.9 463.1,579.2 456.2,570.9" fill="#008000"/>
<polygon points="495.7,562.7 502.5,570.9 495.7,579.2 488.8,570.9" fill="#008000"/>
<polygon points="528.3,562.4 535.1,570.7 528.3,579.0 521.5,570.7" fill="#008000"/>
<polygon points="560.9,561.9 567.8,570.1 560.9,578.4 554.1,570.1" fill="#008000"/>
<polygon points="593.5,561.1 600.4,569.4 593.5,577.6 586.7,569.4" fill="#008000"/>
<polygon points="624.6,557.9 631.4,566.2 624.6,574.4 617.7,566.2" fill="#008000"/>
<polygon points="661.8,556.0 668.6,564.3 661.8,572.6 654.9,564.3" fill="#008000"/>
<polygon points="693.7,550.2 700.6,558.5 693.7,566.8 686.9,558.5" fill="#008000"/>
<polygon points="723.9,539.1 730.7,547.4 723.9,555.6 717.1,547.4" fill="#008000"/>
<polygon points="754.6,409.2 761.5,417.5 754.6,425.8 747.8,417.5" fill="#008000"/>
<polygon points="752.7,409.2 759.5,417.5 752.7,425.8 745.8,417.5" fill="#008000"/>
<polygon points="722.5,503.8 729.4,512.1 722.5,520.4 715.7,512.1" fill="#008000"/>
<polygon points="690.0,544.9 696.8,553.2 690.0,561.5 683.2,553.2" fill="#008000"/>
<polygon points="657.1,555.2 664.0,563.5 657.1,571.8 650.3,563.5" fill="#008000"/>
<polygon points="624.6,557.1 631.4,565.4 624.6,573.7 617.7,565.4" fill="#008000"/>
<polygon points="598.7,560.0 605.6,568.3 598.7,576.6 591.9,568.3" fill="#008000"/>
<polygon points="566.1,561.1 573.0,569.4 566.1,577.6 559.3,569.4" fill="#008000"/>
<polygon points="533.5,561.9 540.4,570.1 533.5,578.4 526.7,570.1" fill="#008000"/>
<polygon points="500.9,562.1 507.7,570.4 500.9,578.7 494.1,570.4" fill="#008000"/>
<polygon points="468.3,562.4 475.1,570.7 468.3,579.0 461.5,570.7" fill="#008000"/>
<polygon points="435.7,562.4 442.5,570.7 435.7,579.0 428.8,570.7" fill="#008000"/>
<polygon points="403.1,562.4 409.9,570.7 403.1,579.0 396.2,570.7" fill="#008000"/>
<polygon points="371.8,562.4 378.6,570.7 371.8,579.0 364.9,570.7" fill="#008000"/>
<polygon points="340.5,562.4 347.3,570.7 340.5,579.0 333.6,570.7" fill="#008000"/>
<polygon points="307.8,562.4 314.7,570.7 307.8,579.0 301.0,570.7" fill="#008000"/>
<polygon points="275.2,562.4 282.1,570.7 275.2,579.0 268.4,570.7" fill="#008000"/>
<polygon points="243.3,562.4 250.1,570.7 243.3,579.0 236.4,570.7" fill="#008000"/>
<polygon points="211.3,562.4 218.1,570.7 211.3,579.0 204.5,570.7" fill="#008000"/>
<polygon points="178.7,562.4 185.5,570.7 178.7,579.0 171.9,570.7" fill="#008000"/>
<polyline points="145.4,570.9 173.5,570.9 206.1,570.9 238.0,570.9 270.0,570.9 302.6,570.9 335.2,570.7 366.5,570.7 397.9,570.4 430.5,570.4 463.1,570.1 495.7,569.9 528.3,569.6 560.9,568.3 593.5,565.6 627.6,562.5 659.1,557.4 691.5,549.2 723.3,519.8 753.8,325.6 750.9,325.6 721.6,436.9 689.1,504.7 658.6,537.8 626.1,552.1 598.7,557.2 566.1,560.9 533.5,563.5 500.9,565.1 468.3,566.7 435.7,568.0 403.1,569.1 371.8,569.6 340.5,569.9 307.8,570.1 275.2,570.4 243.3,570.4 211.3,570.7 178.7,570.7" fill="none" stroke="#000080" stroke-width="6" stroke-linejoin="round" stroke-linecap="round" />
<polygon points="137.0,570.9 149.6,563.6 149.6,578.2" fill="#000080"/>
<polygon points="165.1,570.9 177.7,563.6 177.7,578.2" fill="#000080"/>
<polygon points="197.7,570.9 210.3,563.6 210.3,578.2" fill="#000080"/>
<polygon points="229.6,570.9 242.2,563.6 242.2,578.2" fill="#000080"/>
<polygon points="261.6,570.9 274.2,563.6 274.2,578.2" fill="#000080"/>
<polygon points="294.2,570.9 306.8,563.6 306.8,578.2" fill="#000080"/>
<polygon points="326.8,570.7 339.4,563.4 339.4,578.0" fill="#000080"/>
<polygon points="358.1,570.7 370.7,563.4 370.7,578.0" fill="#000080"/>
<polygon points="389.5,570.4 402.1,563.1 402.1,577.7" fill="#000080"/>
<polygon points="422.1,570.4 434.7,563.1 434.7,577.7" fill="#000080"/>
<polygon points="454.7,570.1 467.3,562.8 467.3,577.5" fill="#000080"/>
<polygon points="487.3,569.9 499.9,562.6 499.9,577.2" fill="#000080"/>
<polygon points="519.9,569.6 532.5,562.3 532.5,576.9" fill="#000080"/>
<polygon points="552.5,568.3 565.1,561.0 565.1,575.6" fill="#000080"/>
<polygon points="585.1,565.6 597.7,558.3 597.7,572.9" fill="#000080"/>
<polygon points="619.2,562.5 631.8,555.2 631.8,569.8" fill="#000080"/>
<polygon points="650.7,557.4 663.3,550.1 663.3,564.7" fill="#000080"/>
<polygon points="683.1,549.2 695.7,541.9 695.7,556.5" fill="#000080"/>
<polygon points="714.9,519.8 727.5,512.5 727.5,527.1" fill="#000080"/>
<polygon points="745.4,325.6 758.0,318.2 758.0,332.9" fill="#000080"/>
<polygon points="742.5,325.6 755.1,318.2 755.1,332.9" fill="#000080"/>
<polygon points="713.2,436.9 725.8,429.5 725.8,444.2" fill="#000080"/>
<polygon points="680.7,504.7 693.3,497.4 693.3,512.0" fill="#000080"/>
<polygon points="650.2,537.8 662.8,530.5 662.8,545.1" fill="#000080"/>
<polygon points="617.7,552.1 630.3,544.8 630.3,559.4" fill="#000080"/>
<polygon points="590.3,557.2 602.9,549.9 602.9,564.5" fill="#000080"/>
<polygon points="557.7,560.9 570.3,553.6 570.3,568.2" fill="#000080"/>
<polygon points="525.1,563.5 537.7,556.2 537.7,570.8" fill="#000080"/>
<polygon points="492.5,565.1 505.1,557.8 505.1,572.4" fill="#000080"/>
<polygon points="459.9,566.7 472.5,559.4 472.5,574.0" fill="#000080"/>
<polygon points="427.3,568.0 439.9,560.7 439.9,575.3" fill="#000080"/>
<polygon points="394.7,569.1 407.3,561.8 407.3,576.4" fill="#000080"/>
<polygon points="363.4,569.6 376.0,562.3 376.0,576.9" fill="#000080"/>
<polygon points="332.1,569.9 344.7,562.6 344.7,577.2" fill="#000080"/>
<polygon points="299.4,570.1 312.0,562.8 312.0,577.5" fill="#000080"/>
<polygon points="266.8,570.4 279.4,563.1 279.4,577.7" fill="#000080"/>
<polygon points="234.9,570.4 247.5,563.1 247.5,577.7" fill="#000080"/>
<polygon points="202.9,570.7 215.5,563.4 215.5,578.0" fill="#000080"/>
<polygon points="170.3,570.7 182.9,563.4 182.9,578.0" fill="#000080"/>
</g>
<g clip-path="url(#cb)">
<polyline points="1100.0,561.3 1113.0,561.3 1129.0,561.3 1147.0,561.3 1172.0,561.3 1203.5,561.3 1248.5,561.3 1321.0,561.3 1448.0,507.6 1744.3,326.9" fill="none" stroke="#000000" stroke-width="5.8" stroke-linejoin="round" stroke-linecap="round" />
<rect x="1094.0" y="555.3" width="12.0" height="12.0" fill="#000000"/>
<rect x="1107.0" y="555.3" width="12.0" height="12.0" fill="#000000"/>
<rect x="1123.0" y="555.3" width="12.0" height="12.0" fill="#000000"/>
<rect x="1141.0" y="555.3" width="12.0" height="12.0" fill="#000000"/>
<rect x="1166.0" y="555.3" width="12.0" height="12.0" fill="#000000"/>
<rect x="1197.5" y="555.3" width="12.0" height="12.0" fill="#000000"/>
<rect x="1242.5" y="555.3" width="12.0" height="12.0" fill="#000000"/>
<rect x="1315.0" y="555.3" width="12.0" height="12.0" fill="#000000"/>
<rect x="1442.0" y="501.6" width="12.0" height="12.0" fill="#000000"/>
<rect x="1738.3" y="320.9" width="12.0" height="12.0" fill="#000000"/>
<polyline points="1087.0,524.2 1099.0,561.3 1113.0,561.3 1129.0,561.3 1147.0,559.8 1172.0,556.8 1200.0,549.2 1252.5,521.2 1325.0,446.4 1456.0,369.2 1749.3,285.3" fill="none" stroke="#ff0000" stroke-width="5.8" stroke-linejoin="round" stroke-linecap="round" />
<circle cx="1087.0" cy="524.2" r="6.3" fill="#ff0000"/>
<circle cx="1099.0" cy="561.3" r="6.3" fill="#ff0000"/>
<circle cx="1113.0" cy="561.3" r="6.3" fill="#ff0000"/>
<circle cx="1129.0" cy="561.3" r="6.3" fill="#ff0000"/>
<circle cx="1147.0" cy="559.8" r="6.3" fill="#ff0000"/>
<circle cx="1172.0" cy="556.8" r="6.3" fill="#ff0000"/>
<circle cx="1200.0" cy="549.2" r="6.3" fill="#ff0000"/>
<circle cx="1252.5" cy="521.2" r="6.3" fill="#ff0000"/>
<circle cx="1325.0" cy="446.4" r="6.3" fill="#ff0000"/>
<circle cx="1456.0" cy="369.2" r="6.3" fill="#ff0000"/>
<circle cx="1749.3" cy="285.3" r="6.3" fill="#ff0000"/>
<polyline points="1088.7,468.3 1100.0,557.5 1113.0,559.0 1129.0,559.0 1147.0,554.5 1172.0,556.8 1203.5,542.4 1254.0,494.0 1323.0,402.5 1456.0,310.2 1751.5,318.6" fill="none" stroke="#0000ff" stroke-width="5.8" stroke-linejoin="round" stroke-linecap="round" />
<polygon points="1088.7,459.9 1096.0,472.5 1081.4,472.5" fill="#0000ff"/>
<polygon points="1100.0,549.1 1107.3,561.7 1092.7,561.7" fill="#0000ff"/>
<polygon points="1113.0,550.6 1120.3,563.2 1105.7,563.2" fill="#0000ff"/>
<polygon points="1129.0,550.6 1136.3,563.2 1121.7,563.2" fill="#0000ff"/>
<polygon points="1147.0,546.1 1154.3,558.7 1139.7,558.7" fill="#0000ff"/>
<polygon points="1172.0,548.4 1179.3,561.0 1164.7,561.0" fill="#0000ff"/>
<polygon points="1203.5,534.0 1210.8,546.6 1196.2,546.6" fill="#0000ff"/>
<polygon points="1254.0,485.6 1261.3,498.2 1246.7,498.2" fill="#0000ff"/>
<polygon points="1323.0,394.1 1330.3,406.7 1315.7,406.7" fill="#0000ff"/>
<polygon points="1456.0,301.8 1463.3,314.4 1448.7,314.4" fill="#0000ff"/>
<polygon points="1751.5,310.2 1758.8,322.8 1744.2,322.8" fill="#0000ff"/>
<polyline points="1083.0,559.8 1100.0,560.5 1113.0,561.3 1129.0,561.3 1147.0,557.5 1170.8,546.2 1203.2,529.5 1250.0,484.2 1321.0,419.1 1450.0,388.9 1735.4,140.9" fill="none" stroke="#ff00ff" stroke-width="5.8" stroke-linejoin="round" stroke-linecap="round" />
<polygon points="1083.0,568.2 1090.3,555.6 1075.7,555.6" fill="#ff00ff"/>
<polygon points="1100.0,568.9 1107.3,556.3 1092.7,556.3" fill="#ff00ff"/>
<polygon points="1113.0,569.7 1120.3,557.1 1105.7,557.1" fill="#ff00ff"/>
<polygon points="1129.0,569.7 1136.3,557.1 1121.7,557.1" fill="#ff00ff"/>
<polygon points="1147.0,565.9 1154.3,553.3 1139.7,553.3" fill="#ff00ff"/>
<polygon points="1170.8,554.6 1178.1,542.0 1163.5,542.0" fill="#ff00ff"/>
<polygon points="1203.2,537.9 1210.5,525.3 1195.9,525.3" fill="#ff00ff"/>
<polygon points="1250.0,492.6 1257.3,480.0 1242.7,480.0" fill="#ff00ff"/>
<polygon points="1321.0,427.5 1328.3,414.9 1313.7,414.9" fill="#ff00ff"/>
<polygon points="1450.0,397.3 1457.3,384.7 1442.7,384.7" fill="#ff00ff"/>
<polygon points="1735.4,149.3 1742.7,136.7 1728.1,136.7" fill="#ff00ff"/>
<polyline points="1088.2,561.3 1100.0,561.3 1113.0,561.3 1129.0,561.3 1147.0,560.5 1172.0,559.8 1204.0,555.3 1256.0,527.3 1325.0,416.9 1454.0,357.9 1746.5,319.3" fill="none" stroke="#008000" stroke-width="5.8" stroke-linejoin="round" stroke-linecap="round" />
<polygon points="1088.2,553.0 1095.0,561.3 1088.2,569.6 1081.4,561.3" fill="#008000"/>
<polygon points="1100.0,553.0 1106.8,561.3 1100.0,569.6 1093.2,561.3" fill="#008000"/>
<polygon points="1113.0,553.0 1119.8,561.3 1113.0,569.6 1106.2,561.3" fill="#008000"/>
<polygon points="1129.0,553.0 1135.8,561.3 1129.0,569.6 1122.2,561.3" fill="#008000"/>
<polygon points="1147.0,552.3 1153.8,560.5 1147.0,568.8 1140.2,560.5" fill="#008000"/>
<polygon points="1172.0,551.5 1178.8,559.8 1172.0,568.1 1165.2,559.8" fill="#008000"/>
<polygon points="1204.0,547.0 1210.8,555.3 1204.0,563.5 1197.2,555.3" fill="#008000"/>
<polygon points="1256.0,519.0 1262.8,527.3 1256.0,535.6 1249.2,527.3" fill="#008000"/>
<polygon points="1325.0,408.6 1331.8,416.9 1325.0,425.1 1318.2,416.9" fill="#008000"/>
<polygon points="1454.0,349.6 1460.8,357.9 1454.0,366.2 1447.2,357.9" fill="#008000"/>
<polygon points="1746.5,311.0 1753.3,319.3 1746.5,327.6 1739.7,319.3" fill="#008000"/>
<polyline points="1100.0,557.5 1113.0,559.8 1129.0,560.5 1147.0,560.5 1173.0,553.7 1204.8,559.0 1256.4,536.3 1327.0,521.2 1454.0,407.0 1758.5,411.6" fill="none" stroke="#000080" stroke-width="5.8" stroke-linejoin="round" stroke-linecap="round" />
<polygon points="1091.6,557.5 1104.2,550.2 1104.2,564.8" fill="#000080"/>
<polygon points="1104.6,559.8 1117.2,552.5 1117.2,567.1" fill="#000080"/>
<polygon points="1120.6,560.5 1133.2,553.2 1133.2,567.9" fill="#000080"/>
<polygon points="1138.6,560.5 1151.2,553.2 1151.2,567.9" fill="#000080"/>
<polygon points="1164.6,553.7 1177.2,546.4 1177.2,561.0" fill="#000080"/>
<polygon points="1196.4,559.0 1209.0,551.7 1209.0,566.3" fill="#000080"/>
<polygon points="1248.0,536.3 1260.6,529.0 1260.6,543.7" fill="#000080"/>
<polygon points="1318.6,521.2 1331.2,513.9 1331.2,528.5" fill="#000080"/>
<polygon points="1445.6,407.0 1458.2,399.7 1458.2,414.3" fill="#000080"/>
<polygon points="1750.1,411.6 1762.7,404.3 1762.7,418.9" fill="#000080"/>
</g>
<rect x="150" y="92" width="296.5" height="268" fill="#fff"/>
<line x1="162.6" y1="121.5" x2="204.2" y2="121.5" stroke="#000000" stroke-width="5.8"/>
<rect x="178.3" y="115.5" width="12.0" height="12.0" fill="#000000"/>
<text transform="translate(207.9,126.4) scale(1,1.07)" font-family="Liberation Sans, Arial, sans-serif" font-size="30"><tspan x="0">ZnO/g-C</tspan><tspan x="113.9" dy="8.7">3</tspan><tspan x="129.4" dy="-8.7">N</tspan><tspan x="151.5" dy="8.7">4</tspan><tspan x="168.9" dy="-8.7">3%</tspan></text>
<line x1="162.6" y1="166.2" x2="204.2" y2="166.2" stroke="#ff0000" stroke-width="5.8"/>
<circle cx="184.3" cy="166.2" r="6.3" fill="#ff0000"/>
<text transform="translate(209.1,170.5) scale(1,1.07)" font-family="Liberation Sans, Arial, sans-serif" font-size="30"><tspan x="0">ZnO/g-C</tspan><tspan x="113.9" dy="8.7">3</tspan><tspan x="129.4" dy="-8.7">N</tspan><tspan x="151.5" dy="8.7">4</tspan><tspan x="168.9" dy="-8.7">5%</tspan></text>
<line x1="162.6" y1="212.5" x2="204.2" y2="212.5" stroke="#0000ff" stroke-width="5.8"/>
<polygon points="184.3,204.1 191.6,216.7 177.0,216.7" fill="#0000ff"/>
<text transform="translate(209.6,217.2) scale(1,1.07)" font-family="Liberation Sans, Arial, sans-serif" font-size="30"><tspan x="0">ZnO/g-C</tspan><tspan x="113.9" dy="8.7">3</tspan><tspan x="129.4" dy="-8.7">N</tspan><tspan x="151.5" dy="8.7">4</tspan><tspan x="168.9" dy="-8.7">10%</tspan></text>
<line x1="162.6" y1="256.2" x2="204.2" y2="256.2" stroke="#ff00ff" stroke-width="5.8"/>
<polygon points="184.3,264.6 191.6,252.0 177.0,252.0" fill="#ff00ff"/>
<text transform="translate(209.6,261.3) scale(1,1.07)" font-family="Liberation Sans, Arial, sans-serif" font-size="30"><tspan x="0">ZnO/g-C</tspan><tspan x="113.9" dy="8.7">3</tspan><tspan x="129.4" dy="-8.7">N</tspan><tspan x="151.5" dy="8.7">4</tspan><tspan x="168.9" dy="-8.7">20%</tspan></text>
<line x1="162.6" y1="302.3" x2="204.2" y2="302.3" stroke="#008000" stroke-width="5.8"/>
<polygon points="184.3,294.0 191.1,302.3 184.3,310.6 177.5,302.3" fill="#008000"/>
<text transform="translate(209.3,306.6) scale(1,1.07)" font-family="Liberation Sans, Arial, sans-serif" font-size="30"><tspan x="0">g-C</tspan><tspan x="48.6" dy="8.7">3</tspan><tspan x="63.4" dy="-8.7">N</tspan><tspan x="84.7" dy="8.7">4</tspan></text>
<line x1="162.6" y1="347" x2="204.2" y2="347" stroke="#000080" stroke-width="5.8"/>
<polygon points="175.9,347.0 188.5,339.7 188.5,354.3" fill="#000080"/>
<text transform="translate(209.3,351.3) scale(1,1.07)" font-family="Liberation Sans, Arial, sans-serif" font-size="30">ZnO</text>
<line x1="1067.6" y1="120.9" x2="1114.3" y2="120.9" stroke="#000000" stroke-width="5.8"/>
<rect x="1085.0" y="114.9" width="12.0" height="12.0" fill="#000000"/>
<text transform="translate(1115.8,126.4) scale(1,1.07)" font-family="Liberation Sans, Arial, sans-serif" font-size="30"><tspan x="0">ZnO/g-C</tspan><tspan x="113.9" dy="8.7">3</tspan><tspan x="129.4" dy="-8.7">N</tspan><tspan x="151.5" dy="8.7">4</tspan><tspan x="168.9" dy="-8.7">3%</tspan></text>
<line x1="1067.6" y1="166.2" x2="1114.3" y2="166.2" stroke="#ff0000" stroke-width="5.8"/>
<circle cx="1091.0" cy="166.2" r="6.3" fill="#ff0000"/>
<text transform="translate(1118.4,172.2) scale(1,1.07)" font-family="Liberation Sans, Arial, sans-serif" font-size="30"><tspan x="0">ZnO/g-C</tspan><tspan x="113.9" dy="8.7">3</tspan><tspan x="129.4" dy="-8.7">N</tspan><tspan x="151.5" dy="8.7">4</tspan><tspan x="168.9" dy="-8.7">5%</tspan></text>
<line x1="1067.6" y1="213" x2="1114.3" y2="213" stroke="#0000ff" stroke-width="5.8"/>
<polygon points="1091.0,204.6 1098.3,217.2 1083.7,217.2" fill="#0000ff"/>
<text transform="translate(1118.4,218) scale(1,1.07)" font-family="Liberation Sans, Arial, sans-serif" font-size="30"><tspan x="0">ZnO/g-C</tspan><tspan x="113.9" dy="8.7">3</tspan><tspan x="129.4" dy="-8.7">N</tspan><tspan x="151.5" dy="8.7">4</tspan><tspan x="168.9" dy="-8.7">10%</tspan></text>
<line x1="1067.6" y1="257.5" x2="1114.3" y2="257.5" stroke="#ff00ff" stroke-width="5.8"/>
<polygon points="1091.0,265.9 1098.3,253.3 1083.7,253.3" fill="#ff00ff"/>
<text transform="translate(1118.4,263) scale(1,1.07)" font-family="Liberation Sans, Arial, sans-serif" font-size="30"><tspan x="0">ZnO/g-C</tspan><tspan x="113.9" dy="8.7">3</tspan><tspan x="129.4" dy="-8.7">N</tspan><tspan x="151.5" dy="8.7">4</tspan><tspan x="168.9" dy="-8.7">20%</tspan></text>
<line x1="1067.6" y1="303.6" x2="1114.3" y2="303.6" stroke="#008000" stroke-width="5.8"/>
<polygon points="1091.0,295.3 1097.8,303.6 1091.0,311.9 1084.2,303.6" fill="#008000"/>
<text transform="translate(1118.2,309.9) scale(1,1.07)" font-family="Liberation Sans, Arial, sans-serif" font-size="30"><tspan x="0">g-C</tspan><tspan x="48.6" dy="8.7">3</tspan><tspan x="63.4" dy="-8.7">N</tspan><tspan x="84.7" dy="8.7">4</tspan></text>
<line x1="1067.6" y1="349.6" x2="1114.3" y2="349.6" stroke="#000080" stroke-width="5.8"/>
<polygon points="1082.6,349.6 1095.2,342.3 1095.2,356.9" fill="#000080"/>
<text transform="translate(1118.9,355.9) scale(1,1.07)" font-family="Liberation Sans, Arial, sans-serif" font-size="30">ZnO</text>
<rect x="143.2" y="68.7" width="711.4" height="530" fill="none" stroke="#000" stroke-width="4.4" stroke-linejoin="round"/>
<rect x="1049.6" y="68.8" width="711.4" height="529.8" fill="none" stroke="#000" stroke-width="4.4" stroke-linejoin="round"/>
</svg></body></html>
